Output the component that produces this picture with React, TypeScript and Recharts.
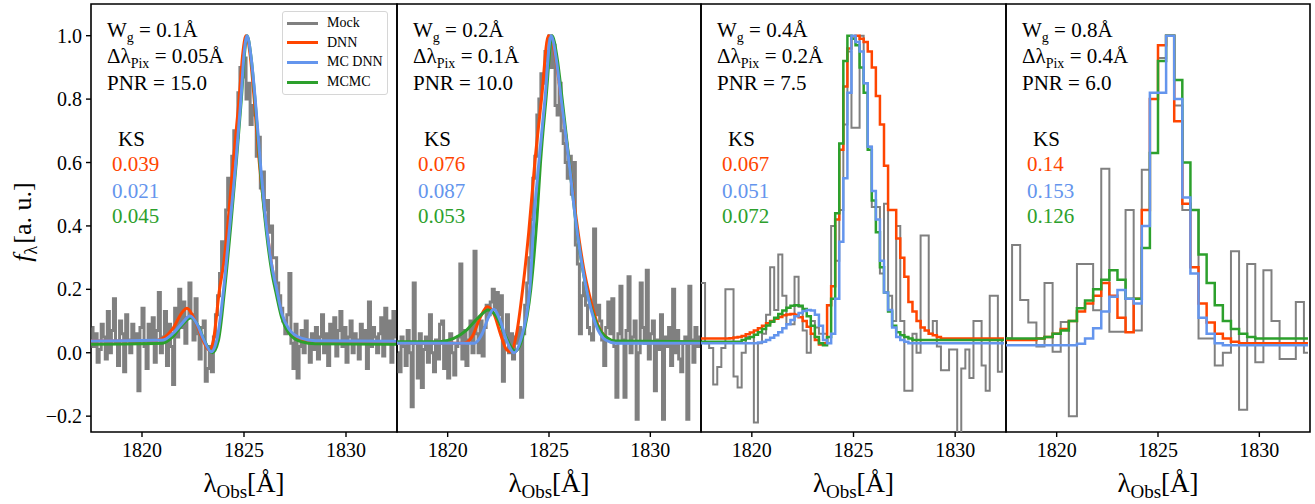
import React from 'react';
import { LineChart, Line, XAxis, YAxis, ReferenceArea } from 'recharts';

const FONT = '"Liberation Serif", "Times New Roman", serif';
const C_MOCK = '#808080';
const C_DNN = '#ff4500';
const C_MC = '#6495ed';
const C_MCMC = '#2ca02c';

const X_DOMAIN = [1817.5, 1832.5];
const Y_DOMAIN = [-0.25, 1.1];
const X_TICKS = [1820, 1825, 1830];
const Y_TICKS = [-0.2, 0, 0.2, 0.4, 0.6, 0.8, 1.0];

// panel annotations
const WG = ['0.1', '0.2', '0.4', '0.8'];
const DPIX = ['0.05', '0.1', '0.2', '0.4'];
const PNR = ['15.0', '10.0', '7.5', '6.0'];
const KS_DNN = ['0.039', '0.076', '0.067', '0.14'];
const KS_MC = ['0.021', '0.087', '0.051', '0.153'];
const KS_MCMC = ['0.045', '0.053', '0.072', '0.126'];

// pixel grids (Å)
const GRID_01 = [
  1817.55, 1817.65, 1817.75, 1817.85, 1817.95, 1818.05, 1818.15, 1818.25, 1818.35, 1818.45,
  1818.55, 1818.65, 1818.75, 1818.85, 1818.95, 1819.05, 1819.15, 1819.25, 1819.35, 1819.45,
  1819.55, 1819.65, 1819.75, 1819.85, 1819.95, 1820.05, 1820.15, 1820.25, 1820.35, 1820.45,
  1820.55, 1820.65, 1820.75, 1820.85, 1820.95, 1821.05, 1821.15, 1821.25, 1821.35, 1821.45,
  1821.55, 1821.65, 1821.75, 1821.85, 1821.95, 1822.05, 1822.15, 1822.25, 1822.35, 1822.45,
  1822.55, 1822.65, 1822.75, 1822.85, 1822.95, 1823.05, 1823.15, 1823.25, 1823.35, 1823.45,
  1823.55, 1823.65, 1823.75, 1823.85, 1823.95, 1824.05, 1824.15, 1824.25, 1824.35, 1824.45,
  1824.55, 1824.65, 1824.75, 1824.85, 1824.95, 1825.05, 1825.15, 1825.25, 1825.35, 1825.45,
  1825.55, 1825.65, 1825.75, 1825.85, 1825.95, 1826.05, 1826.15, 1826.25, 1826.35, 1826.45,
  1826.55, 1826.65, 1826.75, 1826.85, 1826.95, 1827.05, 1827.15, 1827.25, 1827.35, 1827.45,
  1827.55, 1827.65, 1827.75, 1827.85, 1827.95, 1828.05, 1828.15, 1828.25, 1828.35, 1828.45,
  1828.55, 1828.65, 1828.75, 1828.85, 1828.95, 1829.05, 1829.15, 1829.25, 1829.35, 1829.45,
  1829.55, 1829.65, 1829.75, 1829.85, 1829.95, 1830.05, 1830.15, 1830.25, 1830.35, 1830.45,
  1830.55, 1830.65, 1830.75, 1830.85, 1830.95, 1831.05, 1831.15, 1831.25, 1831.35, 1831.45,
  1831.55, 1831.65, 1831.75, 1831.85, 1831.95, 1832.05, 1832.15, 1832.25, 1832.35, 1832.45,
];
const GRID_02 = [
  1817.4, 1817.6, 1817.8, 1818.0, 1818.2, 1818.4, 1818.6, 1818.8, 1819.0, 1819.2,
  1819.4, 1819.6, 1819.8, 1820.0, 1820.2, 1820.4, 1820.6, 1820.8, 1821.0, 1821.2,
  1821.4, 1821.6, 1821.8, 1822.0, 1822.2, 1822.4, 1822.6, 1822.8, 1823.0, 1823.2,
  1823.4, 1823.6, 1823.8, 1824.0, 1824.2, 1824.4, 1824.6, 1824.8, 1825.0, 1825.2,
  1825.4, 1825.6, 1825.8, 1826.0, 1826.2, 1826.4, 1826.6, 1826.8, 1827.0, 1827.2,
  1827.4, 1827.6, 1827.8, 1828.0, 1828.2, 1828.4, 1828.6, 1828.8, 1829.0, 1829.2,
  1829.4, 1829.6, 1829.8, 1830.0, 1830.2, 1830.4, 1830.6, 1830.8, 1831.0, 1831.2,
  1831.4, 1831.6, 1831.8, 1832.0, 1832.2, 1832.4,
];
const GRID_04 = [
  1817.2, 1817.6, 1818.0, 1818.4, 1818.8, 1819.2, 1819.6, 1820.0, 1820.4, 1820.8,
  1821.2, 1821.6, 1822.0, 1822.4, 1822.8, 1823.2, 1823.6, 1824.0, 1824.4, 1824.8,
  1825.2, 1825.6, 1826.0, 1826.4, 1826.8, 1827.2, 1827.6, 1828.0, 1828.4, 1828.8,
  1829.2, 1829.6, 1830.0, 1830.4, 1830.8, 1831.2, 1831.6, 1832.0, 1832.4,
];

// panel 1: W=0.1, pix 0.05
const P1_MOCK = [
  0.08, 0.02, 0.06, -0.03, 0.01, 0.09, 0.05, -0.02, 0.13, 0.0,
  0.07, 0.17, 0.03, -0.04, 0.1, 0.06, -0.06, 0.12, 0.04, 0.0,
  0.09, 0.03, 0.06, -0.12, 0.08, 0.14, 0.02, -0.05, 0.09, 0.03,
  0.11, -0.03, 0.07, 0.19, 0.0, 0.05, 0.13, -0.04, 0.09, 0.02,
  -0.1, 0.14, 0.05, 0.2, 0.08, 0.16, 0.03, 0.11, 0.22, 0.12,
  0.04, 0.17, 0.06, -0.02, 0.08, 0.1, -0.09, -0.05, 0.02, -0.06,
  0.05, 0.12, 0.18, 0.25, 0.35, 0.3, 0.45, 0.55, 0.5, 0.62,
  0.7, 0.68, 0.82, 0.9, 0.87, 0.93, 0.8, 0.85, 0.72, 0.78,
  0.75, 0.62, 0.68, 0.52, 0.57, 0.45, 0.48, 0.38, 0.4, 0.3,
  0.3, 0.22, 0.18, 0.14, 0.1, 0.06, 0.12, 0.25, 0.03, -0.05,
  0.09, -0.08, 0.02, 0.07, 0.0, 0.1, 0.04, -0.03, 0.06, 0.01,
  0.08, -0.02, 0.05, 0.12, 0.0, 0.06, -0.04, 0.09, 0.03, 0.11,
  -0.01, 0.07, 0.13, 0.02, 0.08, -0.03, 0.05, 0.1, 0.0, 0.06,
  0.04, -0.02, 0.09, 0.03, 0.07, -0.05, 0.16, 0.02, 0.08, 0.05,
  0.0, 0.06, 0.11, -0.01, 0.14, 0.04, 0.1, -0.03, 0.13, 0.05,
];
const P1_DNN_X = [1817.5, 1820.5, 1821.0, 1821.5, 1822.0, 1822.2, 1822.5, 1822.8, 1823.1, 1823.3, 1823.5, 1823.8, 1824.0, 1824.2, 1824.47, 1824.76, 1824.95, 1825.1, 1825.3, 1825.5, 1825.75, 1826.1, 1826.35, 1826.6, 1826.85, 1827.2, 1827.6, 1828.2, 1832.5];
const P1_DNN_Y = [0.037, 0.037, 0.045, 0.075, 0.13, 0.14, 0.115, 0.07, 0.025, 0.008, 0.04, 0.2, 0.28, 0.4, 0.6, 0.8, 0.95, 1.0, 0.94, 0.8, 0.6, 0.4, 0.28, 0.19, 0.12, 0.07, 0.045, 0.035, 0.033];
const P1_MC_X = [1817.5, 1821.0, 1821.5, 1822.0, 1822.35, 1822.7, 1823.0, 1823.4, 1823.7, 1824.0, 1824.3, 1824.6, 1824.85, 1825.0, 1825.15, 1825.35, 1825.55, 1825.8, 1826.1, 1826.35, 1826.6, 1826.85, 1827.2, 1827.8, 1828.5, 1832.5];
const P1_MC_Y = [0.037, 0.04, 0.06, 0.095, 0.116, 0.09, 0.045, 0.003, 0.05, 0.2, 0.4, 0.6, 0.8, 0.94, 1.0, 0.93, 0.8, 0.6, 0.4, 0.28, 0.2, 0.125, 0.075, 0.046, 0.038, 0.036];
const P1_MCMC_X = [1817.5, 1821.0, 1821.5, 1822.0, 1822.4, 1822.75, 1823.05, 1823.45, 1823.75, 1824.05, 1824.35, 1824.62, 1824.87, 1825.02, 1825.15, 1825.35, 1825.55, 1825.8, 1826.1, 1826.35, 1826.6, 1826.85, 1827.2, 1827.8, 1828.5, 1832.5];
const P1_MCMC_Y = [0.027, 0.03, 0.05, 0.09, 0.11, 0.085, 0.04, 0.0, 0.04, 0.2, 0.4, 0.6, 0.8, 0.94, 1.0, 0.93, 0.79, 0.58, 0.38, 0.26, 0.18, 0.11, 0.062, 0.035, 0.028, 0.027];

// panel 2: W=0.2, pix 0.1
const P2_MOCK = [
  0.0, -0.06, 0.05, 0.02, -0.04, 0.07, 0.0, -0.17, 0.22, 0.03,
  -0.08, 0.06, -0.11, 0.01, 0.05, -0.03, 0.12, 0.0, -0.06, 0.04,
  -0.02, 0.09, 0.1, -0.05, 0.03, -0.08, 0.06, 0.0, -0.07, 0.02,
  0.05, 0.28, -0.02, 0.07, -0.04, 0.04, 0.1, 0.0, 0.32, 0.06,
  0.0, 0.1, -0.01, 0.08, 0.15, 0.12, 0.16, 0.2, 0.14, 0.19,
  0.12, 0.18, -0.09, 0.04, 0.12, 0.0, 0.06, -0.02, 0.05, 0.03,
  0.08, -0.14, 0.06, 0.15, 0.22, 0.3, 0.42, 0.55, 0.62, 0.75,
  0.8, 0.88, 0.85, 0.95, 0.92, 1.0, 0.9, 0.97, 0.78, 0.75,
  0.85, 0.7, 0.66, 0.6, 0.55, 0.62, 0.5, 0.6, 0.34, 0.28,
  0.06, 0.18, 0.22, 0.15, 0.08, 0.06, 0.04, 0.39, 0.12, 0.15,
  0.1, 0.04, -0.04, 0.08, 0.16, 0.06, 0.17, 0.02, -0.14, 0.06,
  0.21, 0.04, -0.14, 0.07, 0.24, 0.0, 0.05, 0.1, -0.21, 0.0,
  0.22, 0.08, 0.03, 0.26, -0.02, 0.06, 0.1, -0.12, 0.04, 0.01,
  0.12, -0.21, 0.05, 0.02, 0.08, -0.04, 0.2, 0.0, 0.07, -0.02,
  -0.06, 0.03, 0.05, -0.21, 0.21, 0.04, -0.03, 0.08, 0.02, 0.05,
];
const P2_DNN_X = [1817.5, 1820.8, 1821.2, 1821.6, 1821.95, 1822.3, 1822.6, 1822.9, 1823.1, 1823.4, 1823.7, 1824.0, 1824.3, 1824.63, 1824.97, 1825.3, 1825.6, 1826.0, 1826.35, 1826.7, 1827.0, 1827.4, 1827.8, 1828.3, 1832.5];
const P2_DNN_Y = [0.03, 0.03, 0.05, 0.11, 0.145, 0.12, 0.06, 0.01, 0.003, 0.06, 0.2, 0.38, 0.6, 0.8, 1.0, 0.94, 0.8, 0.6, 0.42, 0.27, 0.18, 0.09, 0.05, 0.035, 0.03];
const P2_MC_X = [1817.5, 1821.3, 1821.7, 1822.0, 1822.26, 1822.6, 1822.9, 1823.28, 1823.6, 1824.05, 1824.26, 1824.5, 1824.8, 1825.1, 1825.35, 1825.6, 1825.99, 1826.35, 1826.85, 1827.3, 1827.8, 1828.3, 1832.5];
const P2_MC_Y = [0.03, 0.03, 0.06, 0.11, 0.137, 0.1, 0.04, 0.0, 0.04, 0.2, 0.42, 0.6, 0.8, 1.0, 0.93, 0.8, 0.6, 0.4, 0.2, 0.09, 0.04, 0.03, 0.03];
const P2_MCMC_X = [1817.5, 1819.6, 1820.3, 1820.9, 1821.5, 1822.0, 1822.4, 1822.8, 1823.33, 1823.7, 1824.1, 1824.4, 1824.58, 1824.85, 1825.15, 1825.4, 1825.65, 1826.0, 1826.35, 1826.85, 1827.3, 1827.8, 1828.3, 1832.5];
const P2_MCMC_Y = [0.035, 0.035, 0.045, 0.07, 0.11, 0.135, 0.115, 0.06, 0.005, 0.05, 0.2, 0.42, 0.6, 0.8, 1.0, 0.93, 0.8, 0.6, 0.4, 0.2, 0.1, 0.05, 0.037, 0.035];

// panel 3: W=0.4, pix 0.2 (on GRID_02)
const P3_MOCK = [
  0.22,
  0.22, 0.03, 0.015, -0.1, -0.045, 0.015, 0.2, 0.2, -0.075, -0.11,
  0.0, 0.05, 0.05, -0.22, 0.03, 0.06, 0.12, 0.27, 0.135, 0.31,
  0.18, 0.09, 0.09, 0.24, 0.145, 0.07, 0.0, 0.1, 0.08, 0.06,
  0.06, 0.15, 0.4, 0.29, 0.45, 0.72, 0.95, 0.71, 0.71, 1.0,
  0.85, 0.65, 0.46, 0.46, 0.25, 0.47, 0.18, 0.1, 0.4, 0.1,
  -0.12, -0.12, 0.06, 0.0, 0.37, 0.37, 0.06, 0.1, 0.02, -0.055,
  -0.055, 0.01, 0.01, -0.3, -0.05, 0.01, -0.08, 0.1, 0.1, -0.04,
  -0.12, 0.18, 0.18, -0.06, 0.04,
];
const P3_DNN = [
  0.045, 0.045, 0.045, 0.045, 0.045, 0.045, 0.045, 0.045,
  0.046, 0.048, 0.05, 0.053, 0.058, 0.064, 0.07, 0.077, 0.085, 0.093, 0.1, 0.107,
  0.113, 0.118, 0.121, 0.122, 0.12, 0.112, 0.1, 0.082, 0.06, 0.04, 0.026, 0.03,
  0.15, 0.21, 0.42, 0.64, 0.84, 0.96, 0.99, 1.0, 0.99, 0.98, 0.95, 0.9, 0.81, 0.72,
  0.59, 0.45, 0.45, 0.36, 0.3, 0.24, 0.16, 0.13, 0.1, 0.08, 0.07, 0.06, 0.055, 0.05,
  0.045, 0.045, 0.045, 0.045, 0.045, 0.045, 0.045, 0.045,
  0.045, 0.045, 0.045, 0.045, 0.045, 0.045, 0.045, 0.045,
];
const P3_MC = [
  0.03, 0.03, 0.03, 0.03, 0.03, 0.03, 0.03, 0.03, 0.03, 0.03, 0.03, 0.03, 0.03, 0.03, 0.03,
  0.032, 0.035, 0.04, 0.047, 0.055, 0.065, 0.077, 0.09, 0.103, 0.115, 0.125, 0.132, 0.135,
  0.133, 0.12, 0.085, 0.04, 0.03, 0.06, 0.17, 0.35, 0.55, 0.82, 1.0, 0.98, 0.95, 0.85,
  0.65, 0.51, 0.42, 0.29, 0.19, 0.135, 0.08, 0.05, 0.04, 0.035,
  0.03, 0.03, 0.03, 0.03, 0.03, 0.03, 0.03, 0.03, 0.03, 0.03, 0.03, 0.03,
  0.03, 0.03, 0.03, 0.03, 0.03, 0.03, 0.03, 0.03, 0.03, 0.03, 0.03, 0.03,
];
const P3_MCMC = [
  0.035, 0.035, 0.035, 0.035, 0.035, 0.035, 0.035, 0.035, 0.035, 0.035, 0.035,
  0.04, 0.045, 0.05, 0.057, 0.065, 0.075, 0.086, 0.098, 0.11, 0.122, 0.133, 0.142,
  0.148, 0.15, 0.148, 0.138, 0.115, 0.085, 0.05, 0.03, 0.024, 0.05, 0.17, 0.44, 0.66,
  0.92, 1.0, 0.99, 0.97, 0.9, 0.82, 0.64, 0.48, 0.38, 0.27, 0.19, 0.13, 0.085, 0.065,
  0.055, 0.05, 0.045,
  0.04, 0.04, 0.04, 0.04, 0.04, 0.04, 0.04, 0.04, 0.04, 0.04, 0.04, 0.04,
  0.04, 0.04, 0.04, 0.04, 0.04, 0.04, 0.04, 0.04, 0.04, 0.04, 0.04,
];

// panel 4: W=0.8, pix 0.4 (on GRID_04)
const P4_MOCK = [
  0.045, 0.045, 0.34, 0.166, 0.095, 0.02, 0.22, 0.003, 0.097, -0.2,
  0.28, 0.28, 0.134, 0.58, 0.066, 0.066, 0.45, 0.07, 0.577, 0.8,
  0.93, 1.0, 0.78, 0.45, 0.45, 0.045, 0.045, -0.04, 0.0, 0.32,
  -0.18, 0.28, -0.03, 0.26, 0.1, -0.02, -0.02, 0.16, 0.0,
];
const P4_DNN = [
  0.04, 0.04, 0.04, 0.04, 0.04, 0.045, 0.05, 0.06, 0.075, 0.1,
  0.13, 0.155, 0.18, 0.22, 0.18, 0.11, 0.065, 0.17, 0.45, 0.8,
  0.97, 1.0, 0.73, 0.47, 0.27, 0.155, 0.095, 0.06, 0.045, 0.035,
  0.03, 0.03, 0.03, 0.03, 0.03, 0.03, 0.03, 0.03, 0.03,
];
const P4_MC = [
  0.024, 0.024, 0.024, 0.024, 0.024, 0.024, 0.024, 0.024, 0.024, 0.024,
  0.028, 0.045, 0.077, 0.13, 0.177, 0.198, 0.17, 0.155, 0.4, 0.82,
  0.82, 1.0, 0.8, 0.49, 0.25, 0.11, 0.06, 0.03, 0.024, 0.024,
  0.024, 0.024, 0.024, 0.024, 0.024, 0.024, 0.024, 0.024, 0.024,
];
const P4_MCMC = [
  0.045, 0.045, 0.045, 0.045, 0.045, 0.045, 0.05, 0.06, 0.07, 0.1,
  0.14, 0.165, 0.2, 0.23, 0.26, 0.23, 0.17, 0.17, 0.33, 0.63,
  0.92, 1.0, 0.86, 0.6, 0.45, 0.31, 0.22, 0.15, 0.1, 0.075,
  0.06, 0.05, 0.045, 0.045, 0.045, 0.045, 0.045, 0.045, 0.045,
];

const zip = (xs: number[], ys: number[]) => xs.map((x, i) => ({ x, y: ys[i] }));

const EDGES = [91, 397, 701, 1006, 1310];

const PANELS = [
  {
    mock: zip(GRID_01, P1_MOCK), dnn: zip(P1_DNN_X, P1_DNN_Y), mc: zip(P1_MC_X, P1_MC_Y), mcmc: zip(P1_MCMC_X, P1_MCMC_Y),
    curve: 'monotone', mockW: 3, modelW: 3,
  },
  {
    mock: zip(GRID_01, P2_MOCK), dnn: zip(P2_DNN_X, P2_DNN_Y), mc: zip(P2_MC_X, P2_MC_Y), mcmc: zip(P2_MCMC_X, P2_MCMC_Y),
    curve: 'monotone', mockW: 3, modelW: 3,
  },
  {
    mock: zip(GRID_02, P3_MOCK), dnn: zip(GRID_02, P3_DNN), mc: zip(GRID_02, P3_MC), mcmc: zip(GRID_02, P3_MCMC),
    curve: 'step', mockW: 2, modelW: 2.5,
  },
  {
    mock: zip(GRID_04, P4_MOCK), dnn: zip(GRID_04, P4_DNN), mc: zip(GRID_04, P4_MC), mcmc: zip(GRID_04, P4_MCMC),
    curve: 'step', mockW: 2, modelW: 2.5,
  },
];

const fmtY = (v: number) => (v < 0 ? '\u2212' + Math.abs(v).toFixed(1) : v.toFixed(1));
const SUB: React.CSSProperties = { fontSize: 14, position: 'relative', top: 5 };

// rotated y-axis title, drawn by the first panel's YAxis
const YTitle = () => (
  <text transform="translate(31,222) rotate(-90)" textAnchor="middle" fontFamily={FONT} fontSize={26} fill="#000">
    <tspan fontStyle="italic">f</tspan>
    <tspan fontSize={18} dy={6}>λ</tspan>
    <tspan dy={-6} dx={2}>[a. u.]</tspan>
  </text>
);

function Panel({ i }: { i: number }) {
  const p = PANELS[i];
  const left = EDGES[i];
  const right = EDGES[i + 1];
  const first = i === 0;
  const yw = first ? 91 : 8;
  const width = yw + (right - left) + 4;
  const line = (data: any[], color: string, w: number, type: any, key: string) => (
    <Line key={key} data={data} dataKey="y" type={type} stroke={color} strokeWidth={w}
      dot={false} activeDot={false} isAnimationActive={false} />
  );
  return (
    <div style={{ position: 'absolute', left: left - yw, top: 0 }}>
      <LineChart width={width} height={504} margin={{ top: 4, right: 4, bottom: 0, left: 0 }}>
        <XAxis type="number" dataKey="x" domain={X_DOMAIN} ticks={X_TICKS} allowDataOverflow
          height={72} tickSize={5} tickMargin={6} axisLine={false} stroke="#000"
          tickLine={{ stroke: '#000', strokeWidth: 1.4 }}
          tick={{ fill: '#000', fontSize: 20, fontFamily: FONT }} />
        <YAxis type="number" domain={Y_DOMAIN} ticks={Y_TICKS} allowDataOverflow width={yw}
          tickSize={5} tickMargin={4} axisLine={false} stroke="#000" tickFormatter={fmtY}
          tickLine={{ stroke: '#000', strokeWidth: 1.4 }}
          tick={first ? { fill: '#000', fontSize: 20, fontFamily: FONT } : false}
          label={first ? { content: YTitle } : undefined} />
        {line(p.mock, C_MOCK, p.mockW, 'step', 'mock')}
        {line(p.dnn, C_DNN, p.modelW, p.curve, 'dnn')}
        {line(p.mcmc, C_MCMC, p.modelW, p.curve, 'mcmc')}
        {line(p.mc, C_MC, p.modelW, p.curve, 'mc')}
        <ReferenceArea x1={X_DOMAIN[0]} x2={X_DOMAIN[1]} y1={Y_DOMAIN[0]} y2={Y_DOMAIN[1]}
          fill="none" fillOpacity={0} stroke="#000" strokeWidth={1.6} />
      </LineChart>
    </div>
  );
}

function Info({ i }: { i: number }) {
  const left = EDGES[i];
  const base: React.CSSProperties = {
    position: 'absolute', left: left + 16, fontSize: 21, lineHeight: '21px', whiteSpace: 'nowrap', color: '#000',
  };
  const cx = (EDGES[i] + EDGES[i + 1]) / 2;
  return (
    <>
      <div style={{ ...base, top: 20 }}>W<span style={SUB}>g</span> = {WG[i]}Å</div>
      <div style={{ ...base, top: 46 }}>Δλ<span style={SUB}>Pix</span> = {DPIX[i]}Å</div>
      <div style={{ ...base, top: 73 }}>PNR = {PNR[i]}</div>
      <div style={{ ...base, left: left + 27, top: 129 }}>KS</div>
      <div style={{ ...base, left: left + 21, top: 154, color: C_DNN }}>{KS_DNN[i]}</div>
      <div style={{ ...base, left: left + 21, top: 181, color: C_MC }}>{KS_MC[i]}</div>
      <div style={{ ...base, left: left + 21, top: 206, color: C_MCMC }}>{KS_MCMC[i]}</div>
      <div style={{ position: 'absolute', left: cx - 100, width: 200, top: 470, fontSize: 27, lineHeight: '27px', textAlign: 'center' }}>
        λ<span style={{ fontSize: 19, position: 'relative', top: 6 }}>Obs</span>[Å]
      </div>
    </>
  );
}

const LEGEND = [
  { name: 'Mock', color: C_MOCK },
  { name: 'DNN', color: C_DNN },
  { name: 'MC DNN', color: C_MC },
  { name: 'MCMC', color: C_MCMC },
];

function LegendBox() {
  return (
    <div style={{
      position: 'absolute', left: 282, top: 11, width: 106, height: 84, boxSizing: 'border-box',
      border: '1px solid #d6d6d6', borderRadius: 3, background: 'rgba(255,255,255,0.8)',
    }}>
      {LEGEND.map((e, k) => (
        <React.Fragment key={e.name}>
          <div style={{ position: 'absolute', left: 4, top: 9.5 + k * 19.7, width: 31, height: 3, background: e.color }} />
          <div style={{ position: 'absolute', left: 44, top: 4 + k * 19.7, fontSize: 14, lineHeight: '14px', whiteSpace: 'nowrap' }}>{e.name}</div>
        </React.Fragment>
      ))}
    </div>
  );
}

export default function App() {
  return (
    <div style={{ position: 'absolute', left: 0, top: 0, width: 1315, height: 504, background: '#fff', fontFamily: FONT, overflow: 'hidden' }}>
      {[0, 1, 2, 3].map((i) => <Panel key={i} i={i} />)}
      {[0, 1, 2, 3].map((i) => <Info key={i} i={i} />)}
      <LegendBox />
    </div>
  );
}
